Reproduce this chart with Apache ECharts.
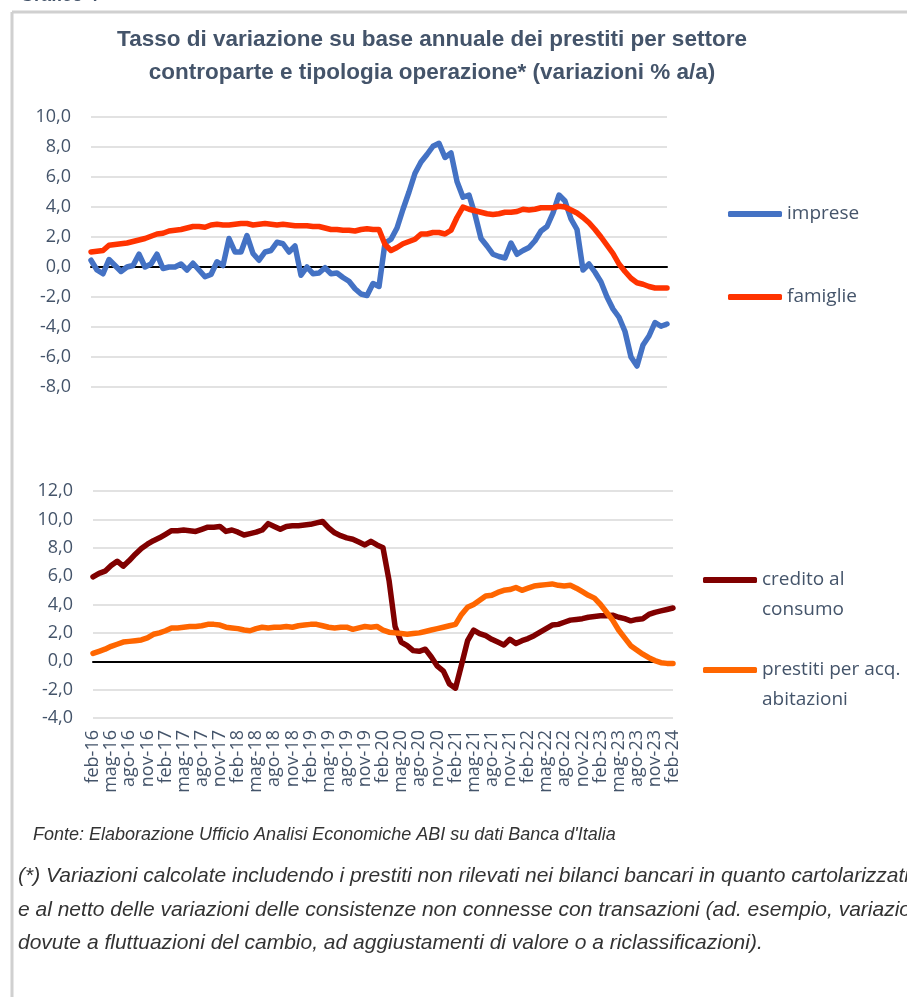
<!DOCTYPE html>
<html>
<head>
<meta charset="utf-8">
<script src="https://cdn.jsdelivr.net/npm/echarts@6/dist/echarts.min.js"></script>
<style>
  html, body { margin: 0; padding: 0; background: #fff; }
  #chart { width: 907px; height: 997px; }
</style>
</head>
<body>
<div id="chart"></div>
<script>
// mesi: feb-16 ... feb-24
var mesi = ['gen', 'feb', 'mar', 'apr', 'mag', 'giu', 'lug', 'ago', 'set', 'ott', 'nov', 'dic'];
var categorie = [];
for (var k = 0; k < 97; k++) {
  var m = (1 + k) % 12;
  var a = 16 + Math.floor((1 + k) / 12);
  categorie.push(mesi[m] + '-' + a);
}

// pannello superiore
var imprese = [0.45, -0.2, -0.45, 0.5, 0.1, -0.3, 0.0, 0.1, 0.85, 0.0, 0.2, 0.85, -0.1, 0.0, 0.0, 0.2,
  -0.2, 0.25, -0.2, -0.65, -0.5, 0.35, 0.1, 1.9, 1.0, 1.0, 2.1, 0.9, 0.45, 1.0, 1.1, 1.65,
  1.55, 1.0, 1.4, -0.55, 0.0, -0.45, -0.4, -0.05, -0.45, -0.4, -0.7, -0.95, -1.45, -1.8, -1.9, -1.1,
  -1.3, 1.6, 1.85, 2.6, 3.85, 5.0, 6.25, 7.0, 7.5, 8.05, 8.25, 7.3, 7.6, 5.7, 4.65, 4.8,
  3.5, 1.9, 1.4, 0.85, 0.7, 0.6, 1.6, 0.85, 1.1, 1.3, 1.75, 2.4, 2.7, 3.6, 4.8, 4.4,
  3.2, 2.5, -0.2, 0.2, -0.35, -1.0, -2.0, -2.8, -3.35, -4.3, -6.0, -6.6, -5.2, -4.6, -3.7, -3.95,
  -3.8];
var famiglie = [1.0, 1.05, 1.1, 1.45, 1.5, 1.55, 1.6, 1.7, 1.8, 1.9, 2.05, 2.2, 2.25, 2.4, 2.45, 2.5,
  2.6, 2.7, 2.7, 2.65, 2.8, 2.85, 2.8, 2.8, 2.85, 2.9, 2.9, 2.8, 2.85, 2.9, 2.85, 2.8,
  2.85, 2.8, 2.75, 2.75, 2.75, 2.7, 2.7, 2.6, 2.5, 2.5, 2.45, 2.45, 2.4, 2.5, 2.55, 2.5,
  2.5, 1.5, 1.1, 1.3, 1.55, 1.7, 1.85, 2.2, 2.2, 2.3, 2.3, 2.2, 2.45, 3.3, 4.0, 3.85,
  3.75, 3.65, 3.55, 3.5, 3.55, 3.65, 3.65, 3.7, 3.85, 3.8, 3.85, 3.95, 3.95, 3.95, 4.05, 4.0,
  3.8, 3.6, 3.3, 2.95, 2.5, 2.0, 1.45, 0.9, 0.2, -0.3, -0.75, -1.05, -1.15, -1.3, -1.4, -1.4,
  -1.4];

// pannello inferiore
var credito = [5.95, 6.2, 6.35, 6.75, 7.05, 6.7, 7.1, 7.55, 7.95, 8.25, 8.5, 8.7, 8.95, 9.2, 9.2, 9.25,
  9.2, 9.15, 9.3, 9.45, 9.45, 9.5, 9.15, 9.25, 9.1, 8.9, 9.0, 9.1, 9.25, 9.7, 9.5, 9.3,
  9.5, 9.55, 9.55, 9.6, 9.65, 9.75, 9.85, 9.4, 9.05, 8.85, 8.7, 8.6, 8.4, 8.2, 8.45, 8.2,
  8.0, 5.7, 2.45, 1.35, 1.1, 0.75, 0.7, 0.85, 0.3, -0.35, -0.7, -1.6, -1.9, -0.25, 1.45, 2.2,
  1.95, 1.8, 1.55, 1.35, 1.15, 1.55, 1.25, 1.45, 1.6, 1.8, 2.05, 2.3, 2.55, 2.6, 2.75, 2.9,
  2.95, 3.0, 3.1, 3.15, 3.2, 3.2, 3.25, 3.1, 3.0, 2.85, 2.95, 3.0, 3.3, 3.45, 3.55, 3.65,
  3.75];
var abitazioni = [0.55, 0.7, 0.85, 1.05, 1.2, 1.35, 1.4, 1.45, 1.5, 1.65, 1.9, 2.0, 2.15, 2.35, 2.35, 2.4,
  2.45, 2.45, 2.5, 2.6, 2.6, 2.55, 2.4, 2.35, 2.3, 2.2, 2.15, 2.3, 2.4, 2.35, 2.4, 2.4,
  2.45, 2.4, 2.5, 2.55, 2.6, 2.6, 2.5, 2.4, 2.35, 2.4, 2.4, 2.25, 2.35, 2.45, 2.4, 2.45,
  2.2, 2.05, 2.0, 1.95, 1.9, 1.95, 2.0, 2.1, 2.2, 2.3, 2.4, 2.5, 2.6, 3.3, 3.8, 4.0,
  4.3, 4.6, 4.65, 4.85, 5.0, 5.05, 5.2, 5.0, 5.15, 5.3, 5.35, 5.4, 5.45, 5.35, 5.3, 5.35,
  5.15, 4.9, 4.65, 4.45, 4.0, 3.45, 2.9, 2.2, 1.65, 1.1, 0.8, 0.5, 0.25, 0.05, -0.1, -0.15,
  -0.15];

var testo = '#44546A';
var fontBase = '"Open Sans", sans-serif';
var fontTitolo = '"Liberation Sans", sans-serif';

var chart = echarts.init(document.getElementById('chart'), null, { renderer: 'canvas' });

function yAsse(grid, min, max) {
  return {
    type: 'value', gridIndex: grid, min: min, max: max, interval: 2,
    axisLine: { show: false }, axisTick: { show: false },
    axisLabel: {
      color: testo, fontSize: 18, fontFamily: fontBase, margin: 20,
      formatter: function (v) { return v.toFixed(1).replace('.', ','); }
    },
    splitLine: { lineStyle: { color: '#d9d9d9', width: 1.5 } }
  };
}

function linea(nome, dati, colore, xi, yi) {
  return {
    name: nome, type: 'line', data: dati, xAxisIndex: xi, yAxisIndex: yi,
    showSymbol: false, symbol: 'none', z: 3,
    lineStyle: { color: colore, width: 5.5, cap: 'round', join: 'round' },
    itemStyle: { color: colore }
  };
}

// voci di legenda; per quelle su due righe si aggiunge una riga vuota sopra
// cosi' la prima riga resta allineata al simbolo
function voce(nome, top, left, multi) {
  return {
    data: [nome], left: left, top: top, orient: 'vertical', padding: 0,
    selectedMode: false, icon: 'roundRect', itemWidth: 54, itemHeight: 6,
    formatter: multi ? function (n) { return ' \n' + n; } : '{name}',
    textStyle: { color: testo, fontSize: 19, fontFamily: fontBase, lineHeight: multi ? 30 : 24 }
  };
}

var option = {
  backgroundColor: '#fff',
  animation: false,
  grid: [
    { left: 91, top: 117, width: 576, height: 270 },
    { left: 93, top: 491, width: 580, height: 227 }
  ],
  xAxis: [
    {
      type: 'category', gridIndex: 0, data: categorie, boundaryGap: false,
      axisLine: { onZero: true, lineStyle: { color: '#000', width: 2 } },
      axisTick: { show: false }, axisLabel: { show: false }, splitLine: { show: false }
    },
    {
      type: 'category', gridIndex: 1, data: categorie, boundaryGap: false,
      axisLine: { show: false, onZero: false }, axisTick: { show: false },
      axisLabel: { interval: 2, rotate: 90, color: testo, fontSize: 18, fontFamily: fontBase, margin: 12 },
      splitLine: { show: false }
    },
    {
      type: 'category', gridIndex: 1, data: categorie, boundaryGap: false,
      axisLine: { onZero: true, lineStyle: { color: '#000', width: 2 } },
      axisTick: { show: false }, axisLabel: { show: false }, splitLine: { show: false }
    }
  ],
  yAxis: [yAsse(0, -8, 10), yAsse(1, -4, 12)],
  legend: [
    voce('imprese', 202, 728, false),
    voce('famiglie', 285, 728, false),
    voce('credito al\nconsumo', 535, 703, true),
    voce('prestiti per acq.\nabitazioni', 625, 703, true)
  ],
  series: [
    linea('imprese', imprese, '#4472C4', 0, 0),
    linea('famiglie', famiglie, '#FF3300', 0, 0),
    linea('credito al\nconsumo', credito, '#800000', 1, 1),
    linea('prestiti per acq.\nabitazioni', abitazioni, '#FF6600', 1, 1)
  ],
  graphic: [
    { type: 'line', shape: { x1: 12, y1: 12, x2: 907, y2: 12 }, style: { stroke: '#d0d0d0', lineWidth: 3 } },
    { type: 'line', shape: { x1: 12, y1: 12, x2: 12, y2: 997 }, style: { stroke: '#d0d0d0', lineWidth: 3 } },
    { type: 'text', x: 20, y: -13, style: { text: 'Grafico 4', fill: testo, font: 'bold 18px ' + fontTitolo } },
    { type: 'text', x: 432, y: 40, style: { text: 'Tasso di variazione su base annuale dei prestiti per settore', fill: testo, font: 'bold 22.5px ' + fontTitolo, textAlign: 'center', textVerticalAlign: 'middle' } },
    { type: 'text', x: 432, y: 73, style: { text: 'controparte e tipologia operazione* (variazioni % a/a)', fill: testo, font: 'bold 22.5px ' + fontTitolo, textAlign: 'center', textVerticalAlign: 'middle' } },
    { type: 'text', x: 33, y: 835, style: { text: "Fonte: Elaborazione Ufficio Analisi Economiche ABI su dati Banca d'Italia", fill: '#333', font: 'italic 18px ' + fontTitolo, textVerticalAlign: 'middle' } },
    { type: 'text', x: 18, y: 876, style: { text: '(*) Variazioni calcolate includendo i prestiti non rilevati nei bilanci bancari in quanto cartolarizzati', fill: '#333', font: 'italic 21px ' + fontTitolo, textVerticalAlign: 'middle' } },
    { type: 'text', x: 18, y: 910, style: { text: 'e al netto delle variazioni delle consistenze non connesse con transazioni (ad. esempio, variazioni', fill: '#333', font: 'italic 21px ' + fontTitolo, textVerticalAlign: 'middle' } },
    { type: 'text', x: 18, y: 943, style: { text: 'dovute a fluttuazioni del cambio, ad aggiustamenti di valore o a riclassificazioni).', fill: '#333', font: 'italic 21px ' + fontTitolo, textVerticalAlign: 'middle' } }
  ]
};

chart.setOption(option);
</script>
</body>
</html>
